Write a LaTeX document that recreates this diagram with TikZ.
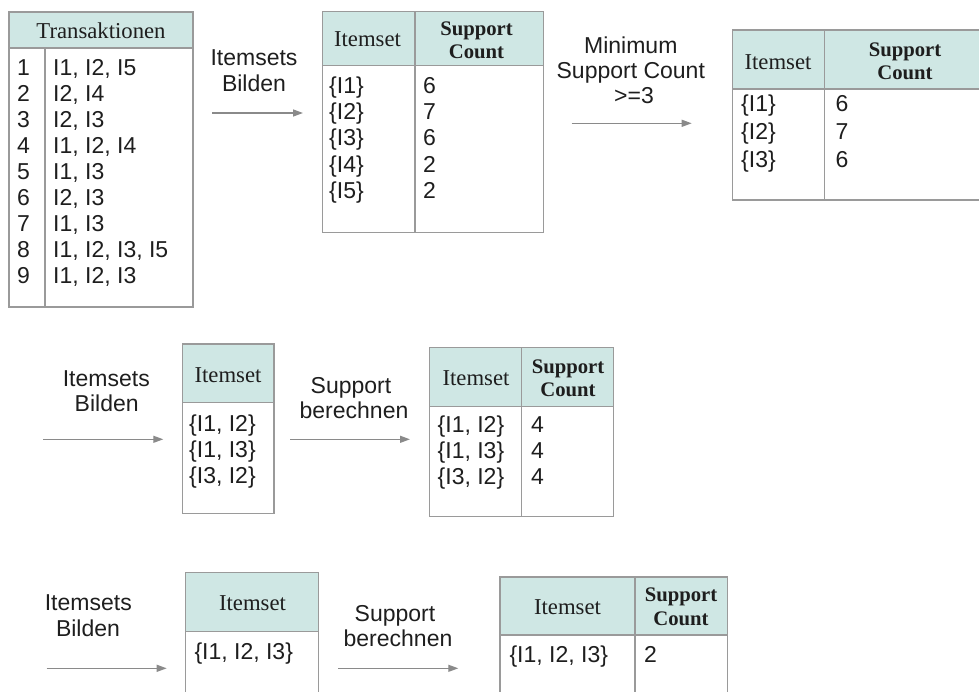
\documentclass[tikz,border=0pt]{standalone}
\usepackage{fontspec}
\setmainfont{Liberation Serif}
\setsansfont{Liberation Sans}
\usetikzlibrary{arrows.meta}
\definecolor{hdrfill}{HTML}{CFE7E4}
\definecolor{brd}{HTML}{9A9A9A}
\definecolor{arrc}{HTML}{8A8A8A}
\definecolor{txt}{HTML}{1E1E1E}
\begin{document}
\begin{tikzpicture}[x=1pt,y=-1pt,
 hcell/.style={draw=brd, fill=hdrfill, line width=1.3pt},
 bcell/.style={draw=brd, fill=white, line width=1.3pt},
 htext/.style={font=\fontsize{22.7}{26}\selectfont, text=txt, inner sep=0pt, anchor=base},
 stext/.style={font=\bfseries\fontsize{20.7}{22}\selectfont, text=txt, inner sep=0pt, anchor=base},
 rtext/.style={font=\sffamily\fontsize{23}{26}\selectfont, text=txt, inner sep=0pt, anchor=base west},
 ltext/.style={font=\sffamily\fontsize{23}{26}\selectfont, text=txt, inner sep=0pt, anchor=base},
 arr/.style={draw=arrc, line width=1.3pt, -{Triangle[length=10pt,width=7pt]}}]
\useasboundingbox (0,0) rectangle (979,691);
\clip (0,0) rectangle (979,691);

% ---------- Table 1: Transaktionen
\draw[hcell] (9,12) rectangle (193,48);
\draw[bcell] (9,48) rectangle (45,307);
\draw[bcell] (45,48) rectangle (193,307);
\node[htext] (t1h) at (101,38.3) {Transaktionen};
\foreach \n/\t [count=\i] in {1/{I1, I2, I5},2/{I2, I4},3/{I2, I3},4/{I1, I2, I4},5/{I1, I3},6/{I2, I3},7/{I1, I3},8/{I1, I2, I3, I5},9/{I1, I2, I3}}{
  \node[rtext] (t1n\i) at (17,{75+26.04*(\i-1)}) {\n};
  \node[rtext] (t1i\i) at (53,{75+26.04*(\i-1)}) {\t};
}

% ---------- Table 2
\draw[hcell] (322.7,11.7) rectangle (415,65.7);
\draw[hcell] (415,11.7) rectangle (543.3,65.7);
\draw[bcell] (322.7,65.7) rectangle (415,232.7);
\draw[bcell] (415,65.7) rectangle (543.3,232.7);
\node[htext] (t2h) at (367.5,46.7) {Itemset};
\node[stext] (t2s) at (476.5,35) {Support};
\node[stext] (t2c) at (476.5,58.3) {Count};
\foreach \a/\b [count=\i] in {{\{I1\}}/6,{\{I2\}}/7,{\{I3\}}/6,{\{I4\}}/2,{\{I5\}}/2}{
  \node[rtext] (t2i\i) at (329,{93.3+26.3*(\i-1)}) {\a};
  \node[rtext] (t2v\i) at (423,{93.3+26.3*(\i-1)}) {\b};
}

% ---------- Table 3
\draw[hcell] (732.3,30) rectangle (824.3,89);
\draw[hcell] (824.3,30) rectangle (995,89);
\draw[bcell] (732.3,89) rectangle (824.3,200);
\draw[bcell] (824.3,89) rectangle (995,200);
\node[htext] (t3h) at (778,69.3) {Itemset};
\node[stext] (t3s) at (905,56) {Support};
\node[stext] (t3c) at (905,79.3) {Count};
\foreach \a/\b [count=\i] in {{\{I1\}}/6,{\{I2\}}/7,{\{I3\}}/6}{
  \node[rtext] (t3i\i) at (741,{111+28.2*(\i-1)}) {\a};
  \node[rtext] (t3v\i) at (835.5,{111+28.2*(\i-1)}) {\b};
}

% ---------- Table 4
\draw[hcell] (182.3,344) rectangle (274,402.7);
\draw[bcell] (182.3,402.7) rectangle (274,513.3);
\node[htext] (t4h) at (228,382.7) {Itemset};
\foreach \a [count=\i] in {{\{I1, I2\}},{\{I1, I3\}},{\{I3, I2\}}}{
  \node[rtext] (t4i\i) at (189,{431.7+25.7*(\i-1)}) {\a};
}

% ---------- Table 5
\draw[hcell] (429.3,347.3) rectangle (521.7,406.7);
\draw[hcell] (521.7,347.3) rectangle (613.3,406.7);
\draw[bcell] (429.3,406.7) rectangle (521.7,516.7);
\draw[bcell] (521.7,406.7) rectangle (613.3,516.7);
\node[htext] (t5h) at (476,385) {Itemset};
\node[stext] (t5s) at (568,373.3) {Support};
\node[stext] (t5c) at (568,396.7) {Count};
\foreach \a/\b [count=\i] in {{\{I1, I2\}}/4,{\{I1, I3\}}/4,{\{I3, I2\}}/4}{
  \node[rtext] (t5i\i) at (437.5,{432.7+25.7*(\i-1)}) {\a};
  \node[rtext] (t5v\i) at (531,{432.7+25.7*(\i-1)}) {\b};
}

% ---------- Table 6
\draw[hcell] (185.7,572.3) rectangle (318.3,631.7);
\draw[bcell] (185.7,631.7) rectangle (318.3,700);
\node[htext] (t6h) at (252.5,610) {Itemset};
\node[rtext] (t6i1) at (194.3,659.3) {\{I1, I2, I3\}};

% ---------- Table 7
\draw[hcell] (500,577) rectangle (635,635);
\draw[hcell] (635,577) rectangle (727.3,635);
\draw[bcell] (500,635) rectangle (635,700);
\draw[bcell] (635,635) rectangle (727.3,700);
\node[htext] (t7h) at (567.5,614) {Itemset};
\node[stext] (t7s) at (681,601.7) {Support};
\node[stext] (t7c) at (681,625) {Count};
\node[rtext] (t7i1) at (509.3,662.5) {\{I1, I2, I3\}};
\node[rtext] (t7v1) at (644,662.5) {2};

% ---------- Arrow labels
\node[ltext] (l1a) at (254,65) {Itemsets};
\node[ltext] (l1b) at (254,91.7) {Bilden};
\node[ltext] (l2a) at (630.8,53.3) {Minimum};
\node[ltext] (l2b) at (630.8,78.3) {Support Count};
\node[ltext] (l2c) at (634,103.3) {>=3};
\node[ltext] (l3a) at (106.3,386.7) {Itemsets};
\node[ltext] (l3b) at (106.7,411.7) {Bilden};
\node[ltext] (l4a) at (351,393.3) {Support};
\node[ltext] (l4b) at (354,418.3) {berechnen};
\node[ltext] (l5a) at (88.3,610) {Itemsets};
\node[ltext] (l5b) at (88,636.7) {Bilden};
\node[ltext] (l6a) at (395,621.7) {Support};
\node[ltext] (l6b) at (398,646.7) {berechnen};

% ---------- Arrows
\coordinate (a1s) at (212,113);   \coordinate (a1e) at (303,113);
\coordinate (a2s) at (571.7,123.3); \coordinate (a2e) at (691.7,123.3);
\coordinate (a3s) at (43.3,439.3); \coordinate (a3e) at (163.3,439.3);
\coordinate (a4s) at (290,439.3); \coordinate (a4e) at (410,439.3);
\coordinate (a5s) at (46.7,668.3); \coordinate (a5e) at (166.7,668.3);
\coordinate (a6s) at (338.3,668.3); \coordinate (a6e) at (458.3,668.3);
\draw[arr] (a1s) -- (a1e);
\draw[arr] (a2s) -- (a2e);
\draw[arr] (a3s) -- (a3e);
\draw[arr] (a4s) -- (a4e);
\draw[arr] (a5s) -- (a5e);
\draw[arr] (a6s) -- (a6e);
\end{tikzpicture}
\end{document}
